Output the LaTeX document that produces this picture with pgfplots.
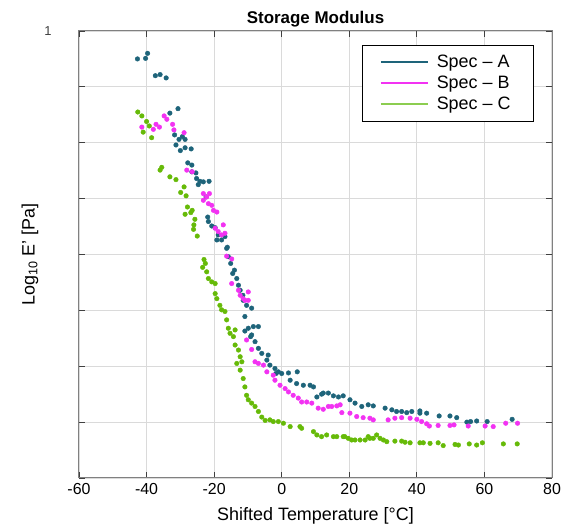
\documentclass[border=0pt]{standalone}
\usepackage{fontspec}
\setmainfont{Liberation Sans}
\usepackage{pgfplots}
\pgfplotsset{compat=1.18}
\definecolor{specA}{RGB}{30,100,122}
\definecolor{specB}{RGB}{242,50,242}
\definecolor{specC}{RGB}{102,186,8}
\definecolor{specCl}{RGB}{140,205,80}
\definecolor{gridc}{RGB}{218,218,218}
\definecolor{axc}{RGB}{128,128,128}
\begin{document}
\begin{tikzpicture}
\begin{axis}[
  name=ax,
  width=473bp, height=447bp, scale only axis,
  xmin=-60, xmax=80, ymin=0, ymax=8,
  xtick={-60,-40,...,80},
  ytick={0,1,...,8},
  yticklabels={,,,,,,,,1},
  yticklabel style={xshift=-24bp, font=\fontsize{13}{13}\selectfont, text=black!75},
  xticklabel style={font=\fontsize{16}{18}\selectfont, yshift=-2bp},
  /pgf/number format/assume math mode=true,
  xtick pos=both, ytick pos=both,
  major tick length=6bp,
  tick style={color=black!75, line width=0.8bp},
  grid=major,
  major grid style={color=gridc, line width=1.2bp},
  axis line style={color=axc, line width=1bp},
  title={\textbf{Storage Modulus}},
  title style={font=\fontsize{17}{19}\selectfont, yshift=-6bp},
  xlabel={Shifted Temperature [°C]},
  xlabel style={font=\fontsize{18}{20}\selectfont, yshift=-6bp},
  ylabel={Log\textsubscript{10} E' [Pa]},
  every axis y label/.style={at={(rel axis cs:0,0.5)}, xshift=-49bp, rotate=90, anchor=center, font=\fontsize{18}{20}\selectfont},
  legend style={at={(rel axis cs:0.962,0.969)}, anchor=north east, draw=black, line width=1bp,
    font=\fontsize{18}{21}\selectfont, inner xsep=10bp, inner ysep=8bp, row sep=3bp},
  legend cell align=left,
]
\addlegendimage{legend image code/.code={\path[draw=none, fill=none] (-8bp,0bp) -- (54bp,0bp); \draw[specA, line width=1.8bp] (0bp,0bp) -- (47bp,0bp);}}
\addlegendentry{Spec -- A\kern11bp}
\addlegendimage{legend image code/.code={\path[draw=none, fill=none] (-8bp,0bp) -- (54bp,0bp); \draw[specB, line width=1.8bp] (0bp,0bp) -- (47bp,0bp);}}
\addlegendentry{Spec -- B\kern11bp}
\addlegendimage{legend image code/.code={\path[draw=none, fill=none] (-8bp,0bp) -- (54bp,0bp); \draw[specCl, line width=1.8bp] (0bp,0bp) -- (47bp,0bp);}}
\addlegendentry{Spec -- C\kern11bp}

% Spec A
\addplot[only marks, mark=*, mark size=2.3bp, color=specA, forget plot] table {
x y
-42.7 7.50
-40.3 7.51
-39.7 7.60
-37.4 7.20
-36.0 7.22
-34.2 7.16
-33.1 6.53
-30.7 6.61
-31.7 6.14
-30.4 6.06
-29.4 6.11
-28.6 6.06
-31.3 5.96
-28.6 5.91
-26.8 5.89
-30.0 5.86
-27.8 5.64
-26.6 5.60
-26.6 5.48
-25.4 5.46
-25.2 5.36
-24.2 5.31
-24.7 5.25
-23.2 5.30
-21.5 5.31
-22.4 5.03
-21.9 4.67
-21.7 4.59
-20.7 4.51
-19.7 4.48
-18.8 4.35
-19.2 4.26
-17.8 4.26
-16.8 4.32
-16.1 4.13
-16.3 4.11
-15.8 3.96
-15.1 3.84
-14.0 3.72
-14.5 3.66
-13.3 3.57
-12.8 3.45
-12.3 3.36
-11.5 3.27
-11.4 3.18
-10.4 3.09
-8.9 3.04
-10.9 2.89
-9.9 2.68
-8.4 2.71
-6.9 2.71
-8.9 2.56
-10.9 2.63
-9.2 2.53
-7.9 2.44
-6.9 2.32
-5.9 2.23
-4.0 2.20
-4.4 2.11
-3.5 2.02
-2.0 1.96
-1.0 1.90
-1.7 1.87
0.0 1.87
2.0 1.88
4.6 1.90
2.5 1.75
4.4 1.69
6.4 1.66
8.4 1.66
9.4 1.63
10.4 1.45
12.3 1.52
13.8 1.52
11.8 1.50
15.3 1.47
16.8 1.45
18.2 1.47
20.2 1.40
21.7 1.34
23.7 1.28
25.6 1.31
27.1 1.29
30.6 1.25
32.6 1.22
34.0 1.19
35.5 1.19
37.0 1.17
38.5 1.19
40.9 1.20
40.9 1.16
42.9 1.16
46.6 1.11
49.8 1.11
51.8 1.08
54.8 1.00
55.9 1.01
57.7 1.02
60.8 1.01
68.2 1.05
};

% Spec B
\addplot[only marks, mark=*, mark size=2.3bp, color=specB, forget plot] table {
x y
-41.4 6.28
-38.0 6.24
-37.2 6.33
-36.2 6.28
-34.8 6.48
-34.0 6.42
-32.3 6.33
-31.9 6.23
-28.9 6.18
-28.1 5.51
-26.5 5.48
-23.2 5.09
-23.2 4.97
-22.2 5.03
-21.4 5.09
-21.7 4.91
-20.7 4.88
-20.2 4.79
-19.2 4.76
-19.7 4.47
-18.8 4.41
-17.3 4.53
-17.8 4.35
-16.8 4.38
-16.3 3.97
-14.8 3.92
-14.8 3.48
-12.8 3.36
-12.3 3.27
-11.4 3.21
-9.9 3.33
-10.9 3.18
-9.9 3.18
-10.4 2.47
-8.9 2.30
-7.9 2.08
-6.9 2.05
-5.4 2.02
-4.4 1.90
-2.5 1.84
-2.0 1.75
-0.5 1.66
1.0 1.60
2.0 1.54
3.4 1.48
4.9 1.43
5.9 1.36
7.4 1.36
8.9 1.34
10.8 1.25
12.3 1.23
13.8 1.28
14.8 1.28
16.3 1.29
17.3 1.31
17.8 1.17
20.2 1.16
22.2 1.10
24.1 1.08
26.1 1.07
27.1 1.04
31.5 1.04
33.5 1.07
35.5 1.08
38.0 1.07
40.0 1.05
41.4 1.01
42.9 0.97
43.7 0.93
46.3 0.94
49.8 0.94
51.0 0.95
55.2 0.93
60.2 0.93
62.6 0.92
66.3 0.98
69.8 0.98
};

% Spec C
\addplot[only marks, mark=*, mark size=2.3bp, color=specC, forget plot] table {
x y
-42.6 6.55
-41.4 6.48
-40.0 6.38
-39.2 6.30
-41.0 6.19
-38.5 6.09
-36.0 5.51
-35.5 5.56
-33.1 5.39
-31.3 5.34
-28.9 5.21
-29.9 5.11
-28.3 5.05
-27.9 4.85
-26.5 4.79
-26.9 4.75
-28.6 4.72
-25.7 4.63
-26.0 4.53
-26.1 4.45
-25.0 4.33
-23.0 3.91
-22.6 3.84
-23.4 3.77
-22.2 3.69
-21.7 3.57
-20.7 3.51
-19.7 3.48
-19.7 3.30
-19.2 3.21
-18.3 3.09
-17.8 3.01
-16.8 2.98
-16.3 2.83
-15.8 2.68
-15.3 2.59
-14.3 2.53
-13.8 2.65
-13.8 2.38
-12.8 2.29
-12.3 2.17
-11.8 2.08
-13.3 2.05
-12.3 1.93
-11.4 1.78
-10.9 1.63
-10.4 1.48
-9.9 1.40
-8.9 1.34
-7.9 1.28
-6.9 1.19
-5.9 1.09
-4.9 1.03
-3.5 1.04
-2.5 1.01
-1.0 1.01
0.5 0.98
2.5 0.92
5.4 0.92
5.9 0.89
9.4 0.83
10.4 0.77
11.8 0.74
13.3 0.77
15.3 0.74
16.3 0.74
18.2 0.74
18.7 0.74
19.7 0.71
20.7 0.68
21.7 0.68
23.2 0.68
24.7 0.68
25.6 0.74
26.1 0.71
27.1 0.71
28.1 0.77
29.1 0.71
30.1 0.68
31.1 0.65
33.5 0.66
35.5 0.66
36.5 0.64
38.0 0.63
40.9 0.63
41.9 0.63
43.9 0.62
46.3 0.63
47.8 0.58
51.3 0.60
52.3 0.59
55.5 0.61
57.7 0.59
59.4 0.63
65.6 0.61
69.7 0.61
};
\end{axis}
\pgfresetboundingbox
\path ([shift={(-79bp,-46bp)}]ax.south west) rectangle ([shift={(10bp,31bp)}]ax.north east);
\end{tikzpicture}
\end{document}
